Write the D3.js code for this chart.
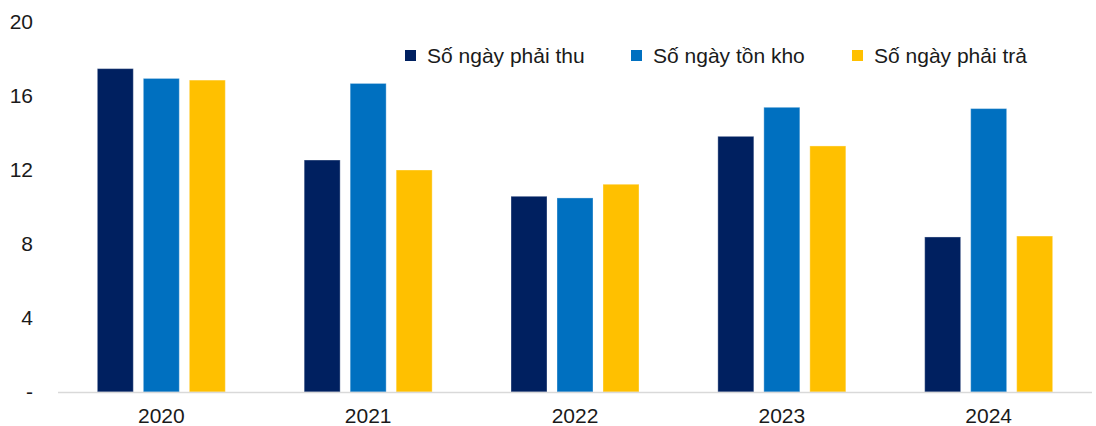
<!DOCTYPE html>
<html>
<head>
<meta charset="utf-8">
<script src="https://cdn.jsdelivr.net/npm/d3@7"></script>
<style>
  html, body { margin: 0; padding: 0; background: #fff; }
  svg { display: block; font-family: Arial, "Liberation Sans", sans-serif; }
</style>
</head>
<body>
<svg id="chart" width="1096" height="426"></svg>
<script>
// Years on the x axis
const years = ["2020", "2021", "2022", "2023", "2024"];
// Series names (legend order)
const seriesNames = ["Số ngày phải thu", "Số ngày tồn kho", "Số ngày phải trả"];
// Values per series, one per year
const receivableDays = [17.48, 12.54, 10.58, 13.82, 8.38];
const inventoryDays  = [16.95, 16.68, 10.49, 15.39, 15.32];
const payableDays    = [16.86, 12.00, 11.23, 13.30, 8.43];
// Y axis ticks and their labels
const yTicks = [0, 4, 8, 12, 16, 20];
const yTickLabels = ["-", "4", "8", "12", "16", "20"];

const seriesValues = [receivableDays, inventoryDays, payableDays];
const colors = ["#002060", "#0070C0", "#FFC000"];
const fontSize = 21;

const svg = d3.select("#chart");
const plot = { left: 58, right: 1092, top: 22, bottom: 392 };

const y = d3.scaleLinear().domain([0, 20]).range([plot.bottom, plot.top]);
const x = d3.scaleBand().domain(years).range([plot.left, plot.right]).paddingInner(0.381).paddingOuter(0.19);
const barW = 36, gap = 10;
const groupW = 3 * barW + 2 * gap;

// y tick labels
svg.append("g").selectAll("text")
  .data(yTicks)
  .join("text")
  .attr("x", 33)
  .attr("y", d => y(d))
  .attr("dy", "0.35em")
  .attr("text-anchor", "end")
  .attr("font-size", fontSize)
  .attr("fill", "#1a1a1a")
  .text((d, i) => yTickLabels[i]);

// bars
const rows = [];
years.forEach((yr, i) => {
  seriesValues.forEach((vals, s) => rows.push({ yr, s, v: vals[i] }));
});
svg.append("g").selectAll("rect")
  .data(rows)
  .join("rect")
  .attr("x", d => x(d.yr) + x.bandwidth() / 2 - groupW / 2 + d.s * (barW + gap))
  .attr("y", d => y(d.v))
  .attr("width", barW)
  .attr("height", d => y(0) - y(d.v))
  .attr("fill", d => colors[d.s])
  .attr("stroke", "rgba(255,255,255,0.35)")
  .attr("stroke-width", 1);

// baseline
svg.append("line")
  .attr("x1", plot.left).attr("x2", plot.right)
  .attr("y1", y(0) + 0.5).attr("y2", y(0) + 0.5)
  .attr("stroke", "#d9d9d9").attr("stroke-width", 1.5);

// x labels
svg.append("g").selectAll("text")
  .data(years)
  .join("text")
  .attr("x", d => x(d) + x.bandwidth() / 2)
  .attr("y", 423)
  .attr("text-anchor", "middle")
  .attr("font-size", fontSize)
  .attr("fill", "#1a1a1a")
  .text(d => d);

// legend
const legendX = [405, 631, 852];
const legend = svg.append("g").selectAll("g")
  .data(seriesNames)
  .join("g")
  .attr("transform", (d, i) => `translate(${legendX[i]},56)`);
legend.append("rect")
  .attr("x", 0).attr("y", -6)
  .attr("width", 11).attr("height", 11)
  .attr("fill", (d, i) => colors[i]);
legend.append("text")
  .attr("x", 22).attr("y", 0)
  .attr("dy", "0.35em")
  .attr("font-size", fontSize)
  .attr("fill", "#1a1a1a")
  .text(d => d);
</script>
</body>
</html>
